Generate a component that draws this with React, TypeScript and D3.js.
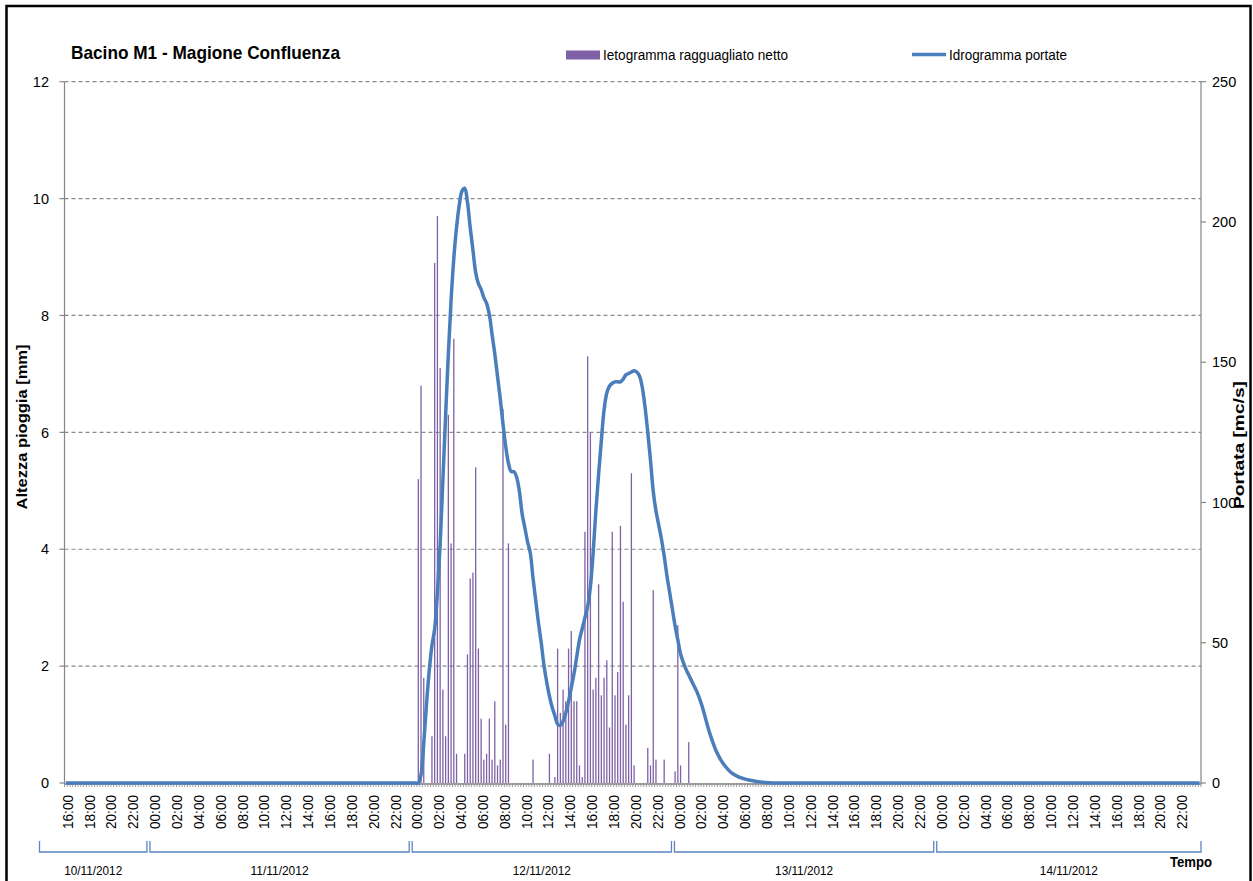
import React from "react";
import * as d3 from "d3";

// ---- data ----
const START = new Date(2012, 10, 10, 16, 0); // first category: 10/11/2012 16:00
const END = new Date(2012, 10, 15, 0, 0); // exclusive
const EVENT_START = new Date(2012, 10, 12, 0, 0); // first value of event arrays

// net areal rainfall [mm] every 15 min from 12/11/2012 00:00 (4 values per hour)
const rainMm = [
  0, 5.2, 6.8, 1.8, // 00
  0, 0, 0.8, 8.9, // 01
  9.7, 7.1, 1.6, 0.8, // 02
  6.3, 4.1, 7.6, 0.5, // 03
  0, 0, 0.5, 2.2, // 04
  3.5, 3.6, 5.4, 2.3, // 05
  1.1, 0.4, 0.5, 1.1, // 06
  0.4, 1.4, 0.3, 0.4, // 07
  6.4, 1.0, 4.1, 0, // 08
  0, 0, 0, 0, // 09
  0, 0, 0, 0.4, // 10
  0, 0, 0, 0, // 11
  0, 0.5, 0, 0.1, // 12
  2.3, 1.2, 1.6, 1.4, // 13
  2.3, 2.6, 1.4, 1.4, // 14
  0.3, 0.1, 4.3, 7.3, // 15
  6.0, 1.6, 1.8, 3.4, // 16
  1.5, 1.8, 2.1, 0.95, // 17
  4.3, 1.5, 1.9, 4.4, // 18
  3.1, 1.0, 1.5, 5.3, // 19
  0.3, 0, 0, 0, // 20
  0, 0.6, 0.3, 3.3, // 21
  0.4, 0, 0, 0.4, // 22
  0, 0, 0, 0.2, // 23
  2.7, 0.3, 0, 0, // 13/11 00
  0.7, 0, 0, 0, // 01
];

// discharge [mc/s] every 15 min from 12/11/2012 00:00
const flowMcs = [
  0, 0, 3, 14,
  28, 40, 49, 55,
  68, 85, 108, 131,
  153, 172, 187, 198,
  206, 211, 212, 207,
  198, 190, 182, 178,
  176, 173, 171, 167,
  160, 153, 145, 137,
  128, 120, 114, 111,
  111, 109, 104, 96,
  91, 86, 82, 73,
  65, 57, 50, 42,
  36, 31, 27, 24,
  21, 20.5, 22, 25,
  29, 34, 39, 45,
  51, 55, 59, 63,
  70, 82, 97, 110,
  122, 133, 139, 141.5,
  142.5, 143, 143, 143,
  144, 145.5, 146, 146.5,
  147, 146.5, 145, 141,
  134, 125, 115, 104,
  97, 92, 87, 81,
  74, 68, 62, 56,
  51, 46, 43, 40.5, // 13/11 00
  38.5, 36.5, 34.5, 32.5,
  30, 27, 23.5, 20,
  16.8, 14, 11.5, 9.5,
  7.8, 6.4, 5.2, 4.2,
  3.4, 2.8, 2.3, 1.9,
  1.6, 1.3, 1.1, 0.9,
  0.7, 0.5, 0.4, 0.3,
  0.2, 0.1, 0.05, 0,
];

const tickHours = ["00:00", "02:00", "04:00", "06:00", "08:00", "10:00", "12:00", "14:00", "16:00", "18:00", "20:00", "22:00"];
const dayLabels = ["10/11/2012", "11/11/2012", "12/11/2012", "13/11/2012", "14/11/2012"];
const leftTicks = [0, 2, 4, 6, 8, 10, 12];
const rightTicks = [0, 50, 100, 150, 200, 250];

const TITLE = "Bacino M1 - Magione Confluenza";
const LEG_RAIN = "Ietogramma ragguagliato netto";
const LEG_FLOW = "Idrogramma portate";

// ---- layout ----
const W = 1253, H = 881;
const X0 = 64.5, X1 = 1201, Y0 = 783, Y1 = 81.7;
const FONT = "'Liberation Sans Narrow','Arial Narrow','Liberation Sans',Arial,sans-serif";
const PURPLE = "#7F61A7";
const BLUE = "#4A7EBB";
const GRID = "#8a8a8a";
const AXIS = "#868686";

export default function App() {
  const times = d3.timeMinute.every(15)!.range(START, END);
  const idx = times.map((_, i) => i);
  const offset = Math.round((+EVENT_START - +START) / (15 * 60000));
  const rain = idx.map((i) => (i >= offset && i - offset < rainMm.length ? rainMm[i - offset] : 0));
  const flow = idx.map((i) => (i >= offset && i - offset < flowMcs.length ? flowMcs[i - offset] : 0));

  const x = d3.scaleBand<number>().domain(idx).range([X0, X1]).padding(0);
  const bw = x.bandwidth();
  const cx = (i: number) => (x(i) as number) + bw / 2;
  const yL = d3.scaleLinear().domain([0, 12]).range([Y0, Y1]);
  const yR = d3.scaleLinear().domain([0, 250]).range([Y0, Y1]);

  const line = d3
    .line<number>()
    .x((i) => cx(i))
    .y((i) => yR(flow[i]))
    .curve(d3.curveCatmullRom.alpha(0.5));

  const fmt = d3.timeFormat("%H:%M");
  const labelIdx = idx.filter((i) => tickHours.includes(fmt(times[i])));

  // day groups
  const dayStarts = d3.timeDay.range(d3.timeDay.floor(START), END);
  const groups = dayStarts.map((d, k) => {
    const a = Math.max(0, idx.findIndex((i) => times[i] >= d));
    const nextDay = d3.timeDay.offset(d, 1);
    const bi = idx.findIndex((i) => times[i] >= nextDay);
    const xa = k === 0 ? X0 - 25 : (x(a) as number) - 2;
    const xb = bi < 0 ? X1 : (x(bi) as number) - 5;
    return { label: dayLabels[k], xa, xb };
  });

  const bracketY0 = 841, bracketY1 = 852;

  return (
    <svg
      width={W}
      height={H}
      style={{ position: "absolute", left: 0, top: 0, background: "#fff" }}
      fontFamily={FONT}
    >
      <rect x={0} y={0} width={W} height={H} fill="#fff" />
      {/* outer border */}
      <rect x={6.5} y={6} width={1244} height={900} fill="none" stroke="#000" strokeWidth={2.5} />

      {/* title */}
      <text x={71} y={59} fontSize={19} fontWeight="bold" textLength={269} lengthAdjust="spacingAndGlyphs" fill="#000">
        {TITLE}
      </text>

      {/* legend */}
      <rect x={566} y={50.5} width={34} height={9} fill={PURPLE} />
      <text x={603} y={59.5} fontSize={14} textLength={185} lengthAdjust="spacingAndGlyphs" fill="#000">
        {LEG_RAIN}
      </text>
      <line x1={912} x2={946} y1={54.5} y2={54.5} stroke={BLUE} strokeWidth={3.5} />
      <text x={949} y={59.5} fontSize={14} textLength={118} lengthAdjust="spacingAndGlyphs" fill="#000">
        {LEG_FLOW}
      </text>

      {/* gridlines */}
      {leftTicks.filter((v) => v > 0).map((v) => (
        <line key={"g" + v} x1={X0} x2={X1} y1={yL(v)} y2={yL(v)} stroke={GRID} strokeWidth={1.2} strokeDasharray="4 3" />
      ))}

      {/* x-axis ticks */}
      {idx.map((i) => (
        <line key={"t" + i} x1={x(i) as number} x2={x(i) as number} y1={Y0} y2={Y0 + 4} stroke={AXIS} strokeWidth={0.8} />
      ))}
      <line x1={X1} x2={X1} y1={Y0} y2={Y0 + 4} stroke={AXIS} strokeWidth={0.8} />

      {/* bars */}
      {idx.filter((i) => rain[i] > 0).map((i) => (
        <rect key={"b" + i} x={cx(i) - 0.65} y={yL(rain[i])} width={1.3} height={yL(0) - yL(rain[i])} fill={PURPLE} />
      ))}

      {/* axes */}
      <line x1={X0} x2={X0} y1={Y1} y2={Y0 + 1} stroke={AXIS} strokeWidth={1.2} />
      <line x1={X1} x2={X1} y1={Y1} y2={Y0 + 1} stroke={AXIS} strokeWidth={1.2} />
      <line x1={X0} x2={X1} y1={Y0 + 1} y2={Y0 + 1} stroke={AXIS} strokeWidth={1.6} />
      {leftTicks.map((v) => (
        <g key={"l" + v}>
          <line x1={X0 - 5} x2={X0} y1={yL(v)} y2={yL(v)} stroke={AXIS} strokeWidth={1.2} />
          <text x={49} y={yL(v)} dy="0.36em" textAnchor="end" fontSize={14.5} fill="#000">
            {v}
          </text>
        </g>
      ))}
      {rightTicks.map((v) => (
        <g key={"r" + v}>
          <line x1={X1} x2={X1 + 5} y1={yR(v)} y2={yR(v)} stroke={AXIS} strokeWidth={1.2} />
          <text x={1212} y={yR(v)} dy="0.36em" textAnchor="start" fontSize={14.5} fill="#000">
            {v}
          </text>
        </g>
      ))}

      {/* hydrograph */}
      <path d={line(idx) || ""} fill="none" stroke={BLUE} strokeWidth={3.5} strokeLinejoin="round" />

      {/* hour labels */}
      {labelIdx.map((i) => {
        const px = cx(i) + 1.5 + 5.3;
        return (
          <text
            key={"h" + i}
            transform={`translate(${px},795) rotate(-90)`}
            textAnchor="end"
            fontSize={15}
            textLength={34}
            lengthAdjust="spacingAndGlyphs"
            fill="#000"
          >
            {fmt(times[i])}
          </text>
        );
      })}

      {/* day brackets */}
      {groups.map((g) => (
        <g key={g.label}>
          <path
            d={`M${g.xa},${bracketY0}V${bracketY1}H${g.xb}V${bracketY0}`}
            fill="none"
            stroke="#5B86C2"
            strokeWidth={1.3}
          />
          <text x={(g.xa + g.xb) / 2} y={875} textAnchor="middle" fontSize={13} textLength={58} lengthAdjust="spacingAndGlyphs" fill="#000">
            {g.label}
          </text>
        </g>
      ))}

      {/* axis titles */}
      <text transform="translate(27,427) rotate(-90)" textAnchor="middle" fontSize={14} fontWeight="bold" textLength={165} lengthAdjust="spacingAndGlyphs" fill="#000">
        Altezza pioggia [mm]
      </text>
      <text transform="translate(1244,445) rotate(-90)" textAnchor="middle" fontSize={14} fontWeight="bold" textLength={128} lengthAdjust="spacingAndGlyphs" fill="#000">
        Portata [mc/s]
      </text>
      <text x={1170} y={867} fontSize={15} fontWeight="bold" textLength={42} lengthAdjust="spacingAndGlyphs" fill="#000">
        Tempo
      </text>
    </svg>
  );
}
